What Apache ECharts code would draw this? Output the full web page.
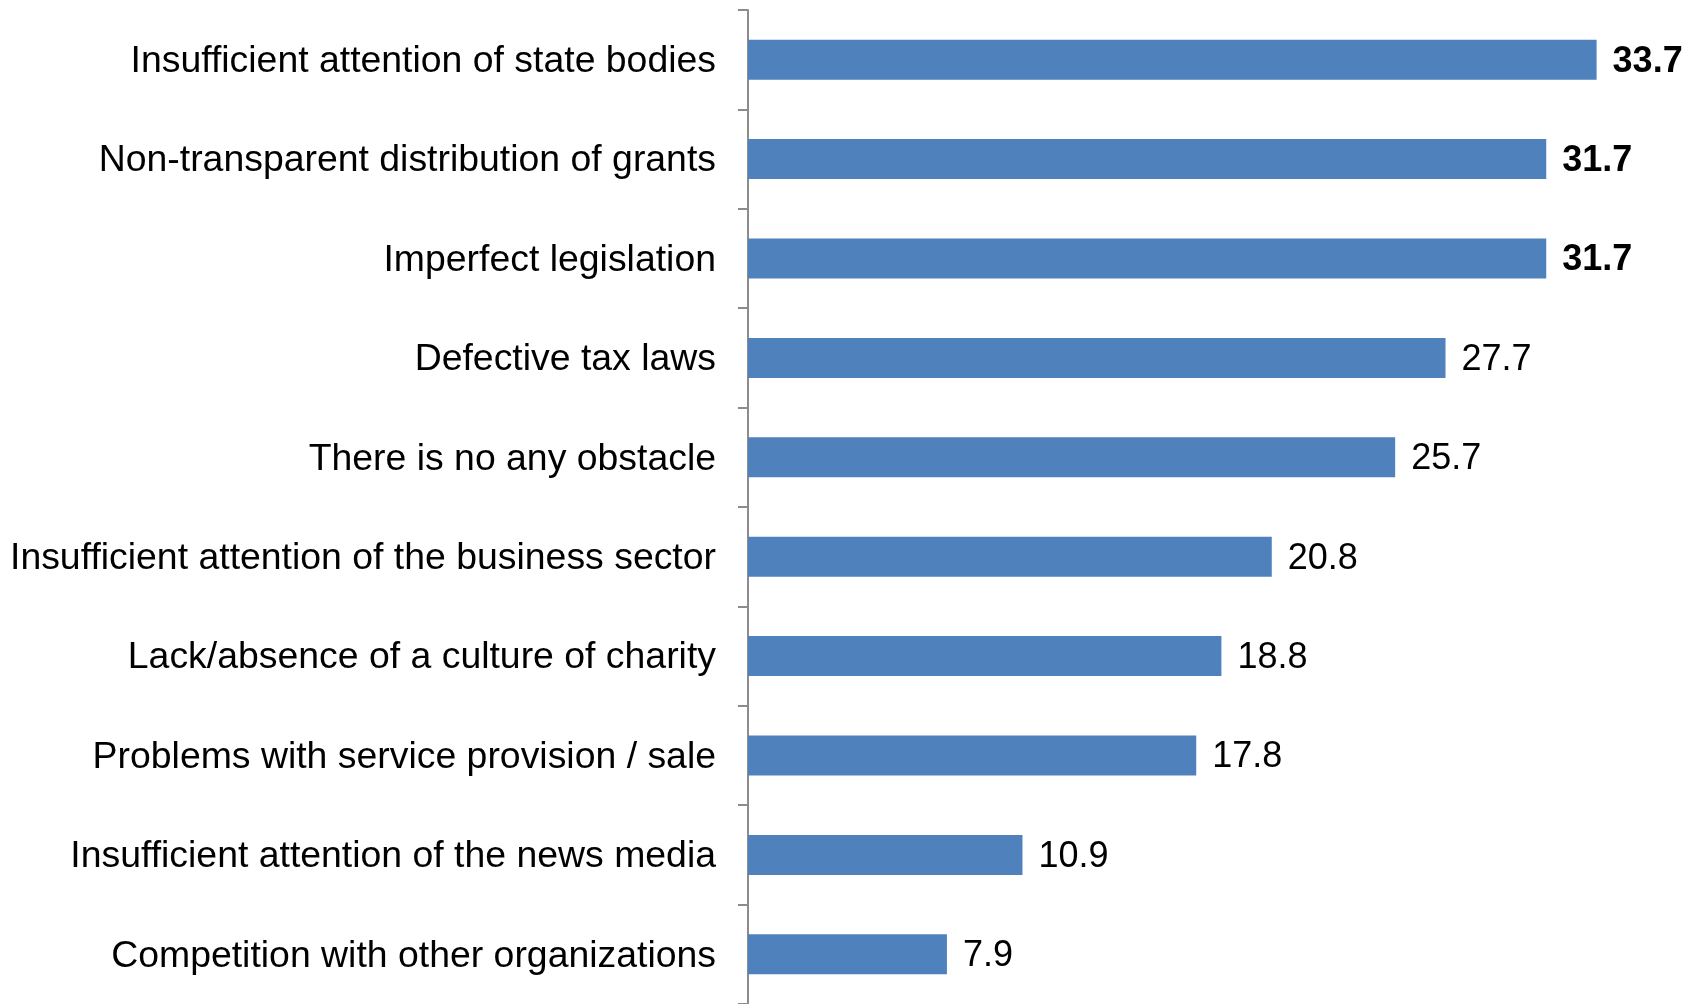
<!DOCTYPE html>
<html>
<head>
<meta charset="utf-8">
<script src="https://cdn.jsdelivr.net/npm/echarts@6/dist/echarts.min.js"></script>
<style>
  html, body { margin: 0; padding: 0; background: #ffffff; }
  #chart { width: 1702px; height: 1004px; }
</style>
</head>
<body>
<div id="chart"></div>
<script>
// Obstacles named by organisations, share of answers (%)
const categories = [
  'Insufficient attention of state bodies',
  'Non-transparent distribution of grants',
  'Imperfect legislation',
  'Defective tax laws',
  'There is no any obstacle',
  'Insufficient attention of the business sector',
  'Lack/absence of a culture of charity',
  'Problems with service provision / sale',
  'Insufficient attention of the news media',
  'Competition with other organizations'
];
const values = [33.7, 31.7, 31.7, 27.7, 25.7, 20.8, 18.8, 17.8, 10.9, 7.9];
// The three leading answers are labelled in bold
const boldCount = 3;

const FONT = '"Liberation Sans", Arial, sans-serif';
const chart = echarts.init(document.getElementById('chart'), null, { renderer: 'canvas' });

const data = values.map((v, i) => ({
  value: v,
  label: { fontWeight: i < boldCount ? 'bold' : 'normal' }
}));

chart.setOption({
  animation: false,
  backgroundColor: '#ffffff',
  grid: { left: 748, top: 10, width: 931.7, height: 997, containLabel: false },
  xAxis: {
    type: 'value',
    min: 0,
    max: 37,
    show: false
  },
  yAxis: {
    type: 'category',
    inverse: true,
    data: categories,
    axisLine: { show: true, lineStyle: { color: '#8c8c8c', width: 2 } },
    axisTick: { show: true, length: 10, lineStyle: { color: '#8c8c8c', width: 2 } },
    axisLabel: {
      interval: 0,
      margin: 32,
      fontFamily: FONT,
      fontSize: 37.4,
      color: '#000000',
      verticalAlign: 'top',
      lineHeight: 4
    },
    splitLine: { show: false }
  },
  series: [{
    type: 'bar',
    data: data,
    barWidth: 40,
    itemStyle: { color: '#4f81bd' },
    label: {
      show: true,
      position: 'right',
      distance: 16,
      offset: [0, 2],
      fontFamily: FONT,
      fontSize: 36,
      color: '#000000'
    }
  }]
});
</script>
</body>
</html>
